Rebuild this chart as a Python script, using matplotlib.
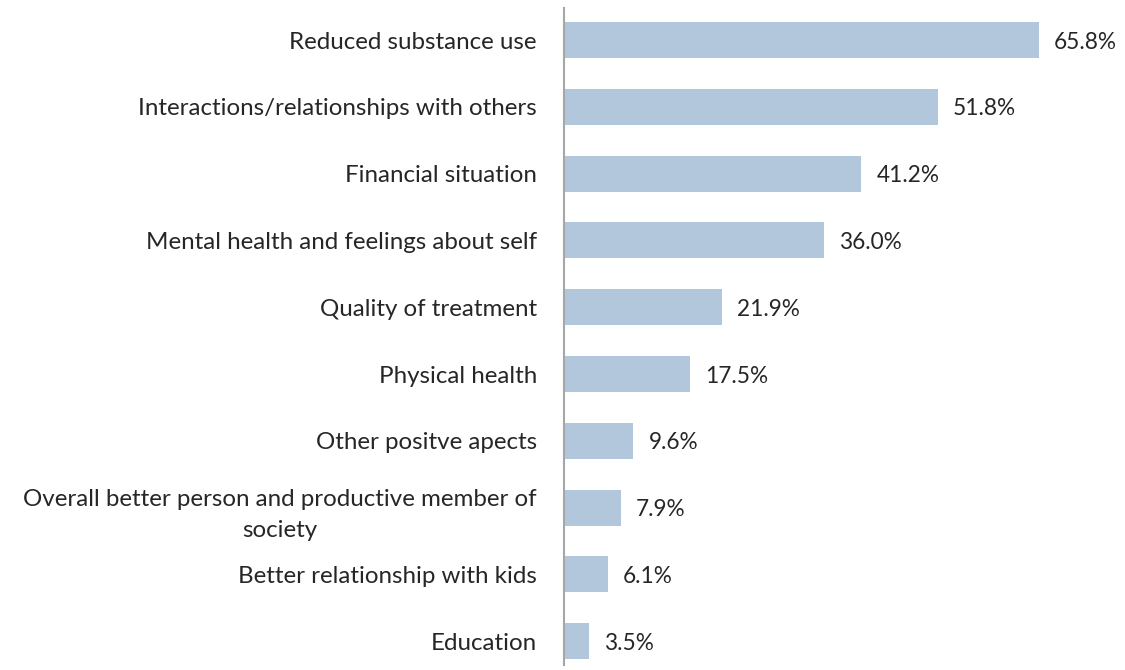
import matplotlib.pyplot as plt

# data
categories = ['Reduced substance use',
              'Interactions/relationships with others',
              'Financial situation',
              'Mental health and feelings about self',
              'Quality of treatment',
              'Physical health',
              'Other positve apects',
              'Overall better person and productive member of\nsociety',
              'Better relationship with kids',
              'Education']
values = [65.8, 51.8, 41.2, 36.0, 21.9, 17.5, 9.6, 7.9, 6.1, 3.5]

plt.rcParams['font.family'] = ['Lato', 'DejaVu Sans']

fig = plt.figure(figsize=(11.25, 6.7), dpi=100)
ax = fig.add_axes([0.5013, 0.0, 0.4987, 0.988])

pos = list(range(len(categories)))
ax.barh(pos, values, height=0.54, color='#b3c7dc')
for p, v in zip(pos, values):
    ax.text(v + 2.1, p + 0.03, '{:.1f}%'.format(v), va='center', ha='left',
            fontsize=16.3, color='#262626')

ax.set_xlim(0, 77.7)
ax.set_ylim(9.431, -0.479)
ax.set_yticks(pos)
ax.set_yticklabels(categories, fontsize=17.4, color='#262626',
                   multialignment='center', linespacing=1.6)
ax.tick_params(axis='y', length=0, pad=19.5)
ax.set_xticks([])
for s in ['top', 'right', 'bottom']:
    ax.spines[s].set_visible(False)
ax.spines['left'].set_color('#a6a6a6')
ax.spines['left'].set_linewidth(1.5)
ax.spines['left'].set_bounds(9.36, -0.479)

plt.savefig('out.png', dpi=100)
plt.close()
